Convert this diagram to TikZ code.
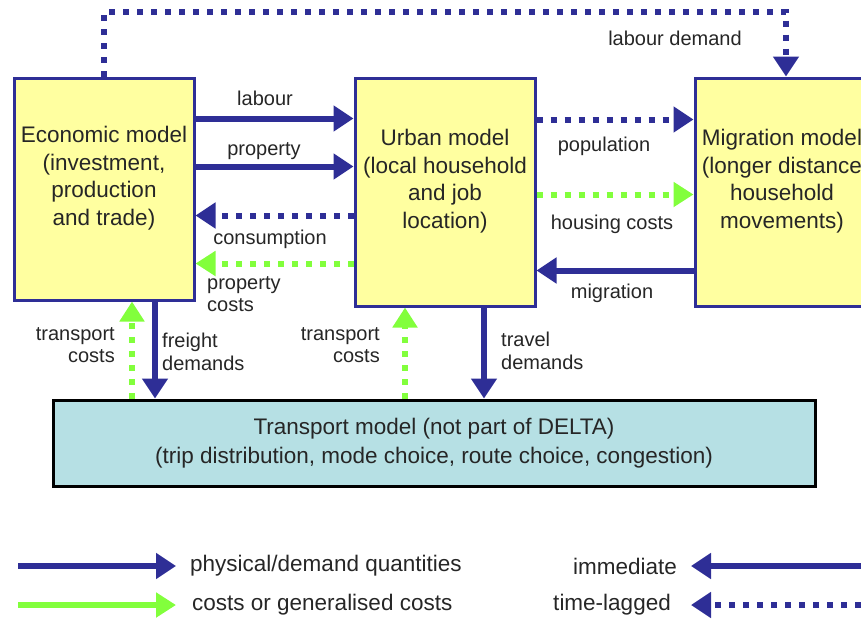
\documentclass[tikz,border=0pt]{standalone}
\usepackage{fontspec}
\setmainfont{Liberation Sans}
\usetikzlibrary{arrows.meta,shadows}

\definecolor{deltanavy}{RGB}{46,46,150}
\definecolor{deltagreen}{RGB}{130,255,60}
\definecolor{deltayellow}{RGB}{255,255,160}
\definecolor{deltacyan}{RGB}{182,224,228}

\tikzset{
  model/.style={draw=deltanavy, line width=3pt, fill=deltayellow, inner sep=0pt},
  modeltext/.style={align=center, inner sep=0pt, text=black!85,
    font=\fontsize{22.5}{27.5}\selectfont},
  lbl/.style={inner sep=0pt, text=black!85, font=\fontsize{20}{22.5}\selectfont},
  legtext/.style={inner sep=0pt, text=black!85, font=\fontsize{22.5}{27}\selectfont},
  phys/.style={draw=deltanavy, line width=6pt, -{Triangle[length=20pt,width=25pt]}},
  cost/.style={draw=deltagreen, line width=6pt, -{Triangle[length=20pt,width=24pt]}},
  lagphys/.style={phys, dash pattern=on 6pt off 8pt},
  lagcost/.style={cost, dash pattern=on 6pt off 8pt}
}

\begin{document}
\begin{tikzpicture}[x=1pt,y=-1pt]
        \useasboundingbox (0,0) rectangle (861,619);

        % The three DELTA models and the transport model
        \node [model, minimum width=180pt, minimum height=222pt] (econ) at (104,189) {};
        \node [model, minimum width=180pt, minimum height=228pt] (urban) at (445,192) {};
        \node [model, minimum width=174pt, minimum height=228pt] (migr) at (782,192) {};
        \node [modeltext] (econtxt) at ([yshift=11pt]econ.center)
          {Economic model\\(investment,\\production\\and trade)};
        \node [modeltext] (urbantxt) at ([yshift=11pt]urban.center)
          {Urban model\\(local household\\and job\\location)};
        \node [modeltext] (migrtxt) at ([yshift=11pt]migr.center)
          {Migration model\\(longer distance\\household\\movements)};
        \node [draw=black, line width=3pt, fill=deltacyan, minimum width=762pt,
          minimum height=86pt, align=center, text=black!85,
          font=\fontsize{22.5}{29}\selectfont,
          drop shadow={shadow xshift=2pt, shadow yshift=-2pt, opacity=0.3}]
          (trans) at (434,443)
          {Transport model (not part of DELTA)\\(trip distribution, mode choice, route choice, congestion)};

        % Arrows between economic and urban model
        \foreach \dy in {42, 90} {
          \draw [phys] ([yshift=-\dy pt]econ.north east) -- ([yshift=-\dy pt]urban.north west);
        }
        \draw [lagphys] ([yshift=-139pt]urban.north west) -- ([yshift=-139pt]econ.north east);
        \draw [lagcost] ([yshift=-187pt]urban.north west) -- ([yshift=-187pt]econ.north east);

        % Arrows between urban and migration model
        \draw [lagphys] ([yshift=-43pt]urban.north east) -- ([yshift=-43pt]migr.north west);
        \draw [lagcost] ([yshift=-118pt]urban.north east) -- ([yshift=-118pt]migr.north west);
        \draw [phys] ([yshift=-194pt]migr.north west) -- ([yshift=-194pt]urban.north east);

        % Labour demand round the top
        \draw [lagphys] (econ.north) -- ([yshift=65pt]econ.north) -| ([xshift=4pt]migr.north);

        % Arrows to and from the transport model
        \draw [phys] ([xshift=51pt]econ.south) -- ([xshift=-279pt]trans.north);
        \draw [lagcost] ([xshift=-302pt]trans.north) -- ([xshift=28pt]econ.south);
        \draw [lagcost] ([xshift=-29pt]trans.north) -- ([xshift=-40pt]urban.south);
        \draw [phys] ([xshift=39pt]urban.south) -- ([xshift=50pt]trans.north);

        % Connector labels
        \node [lbl] (labourlbl) at (265,98) {labour};
        \node [lbl] (proplbl) at (264,151) {property};
        \node [lbl] (consumlbl) at (270,239) {consumption};
        \node [lbl, anchor=west, align=left] (propcostlbl) at (207,294) {property\\costs};
        \node [lbl] (poplbl) at (604,146) {population};
        \node [lbl] (houselbl) at (612,224) {housing costs};
        \node [lbl] (migrlbl) at (612,293) {migration};
        \node [lbl] (labdemlbl) at (675,38) {labour demand};
        \node [lbl, anchor=east, align=right] (tcostlbl) at (115,345) {transport\\costs};
        \node [lbl, anchor=west, align=left] (freightlbl) at (162,352) {freight\\demands};
        \node [lbl, anchor=east, align=right] (tcostlblb) at (380,345) {transport\\costs};
        \node [lbl, anchor=west, align=left] (travellbl) at (501,351) {travel\\demands};

        % Legend
        \node [legtext, anchor=west] (physleg) at (190,566) {physical/demand quantities};
        \node [legtext, anchor=west] (costleg) at (192,605) {costs or generalised costs};
        \node [legtext, anchor=east] (immleg) at (677,566) {immediate};
        \node [legtext, anchor=east] (lagleg) at (671,605) {time-lagged};
        \coordinate (physstart) at (18,566);
        \coordinate (coststart) at (18,605);
        \coordinate (immstart) at (875,566);
        \coordinate (lagstart) at (875,605);
        \draw [phys] (physstart) -- ([xshift=-14pt]physleg.west);
        \draw [cost] (coststart) -- ([xshift=-16pt]costleg.west);
        \draw [phys] (immstart) -- ([xshift=14pt]immleg.east);
        \draw [lagphys] (lagstart) -- ([xshift=20pt]lagleg.east);
\end{tikzpicture}
\end{document}
